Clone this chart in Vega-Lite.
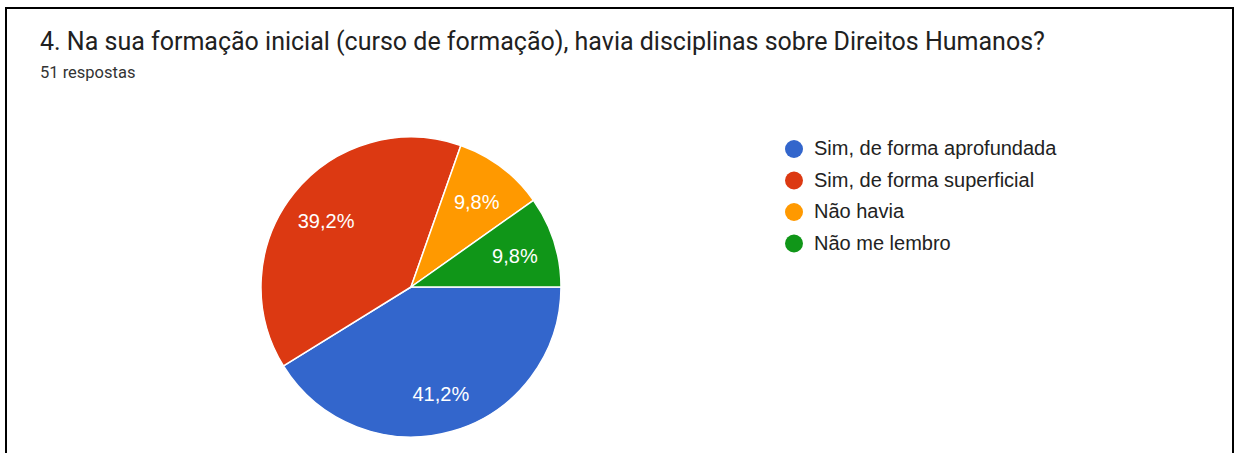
{
  "$schema": "https://vega.github.io/schema/vega-lite/v6.json",
  "width": 1227,
  "height": 460,
  "autosize": "none",
  "padding": {"left": 6, "top": 8, "right": 2, "bottom": 0},
  "background": "white",
  "view": {"stroke": "black", "strokeWidth": 2, "fill": "white"},
  "title": {
    "text": "4. Na sua formação inicial (curso de formação), havia disciplinas sobre Direitos Humanos?",
    "subtitle": "51 respostas",
    "anchor": "start",
    "frame": "group",
    "orient": "top",
    "offset": -73,
    "dx": 34,
    "font": "Roboto",
    "fontSize": 25,
    "fontWeight": "normal",
    "color": "#212121",
    "subtitleFont": "Roboto",
    "subtitleFontSize": 16.5,
    "subtitleColor": "#333333",
    "subtitlePadding": 10
  },
  "data": {
    "values": [
      {"resposta": "Sim, de forma aprofundada", "n": 21, "ord": 1, "pct": "41,2%"},
      {"resposta": "Sim, de forma superficial", "n": 20, "ord": 2, "pct": "39,2%"},
      {"resposta": "Não havia", "n": 5, "ord": 3, "pct": "9,8%"},
      {"resposta": "Não me lembro", "n": 5, "ord": 4, "pct": "9,8%"}
    ]
  },
  "layer": [
    {
      "mark": {"type": "arc", "x": 405, "y": 279, "outerRadius": 150, "stroke": "white", "strokeWidth": 1.5},
      "encoding": {
        "theta": {"field": "n", "type": "quantitative", "stack": true, "scale": {"range": [1.5707963, 7.8539816]}},
        "order": {"field": "ord", "type": "quantitative", "sort": "ascending"},
        "color": {
          "field": "resposta",
          "type": "nominal",
          "scale": {
            "domain": ["Sim, de forma aprofundada", "Sim, de forma superficial", "Não havia", "Não me lembro"],
            "range": ["#3366cc", "#dc3912", "#ff9900", "#109618"]
          },
          "legend": {
            "orient": "none",
            "legendX": 778,
            "legendY": 131,
            "title": null,
            "symbolType": "circle",
            "symbolSize": 324,
            "symbolStrokeWidth": 0,
            "labelFontSize": 20,
            "labelFont": "Liberation Sans",
            "labelColor": "#222222",
            "labelLimit": 500,
            "rowPadding": 11.5,
            "labelOffset": 10,
            "padding": 0
          }
        }
      }
    },
    {
      "mark": {"type": "text", "x": 405, "y": 279, "radius": 109, "dy": 3, "font": "Liberation Sans", "fontSize": 20, "fill": "white", "align": "center", "baseline": "middle"},
      "encoding": {
        "theta": {"field": "n", "type": "quantitative", "stack": true, "scale": {"range": [1.5707963, 7.8539816]}},
        "order": {"field": "ord", "type": "quantitative", "sort": "ascending"},
        "text": {"field": "pct", "type": "nominal"}
      }
    }
  ]
}
